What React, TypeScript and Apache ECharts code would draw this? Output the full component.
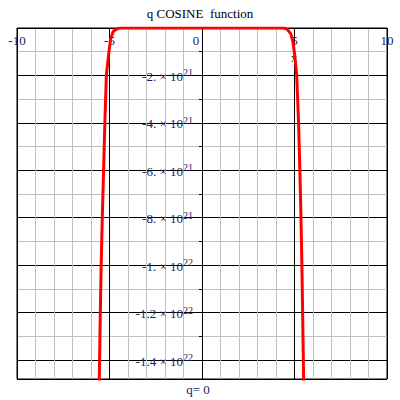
import React, { useEffect, useRef } from "react";
import * as echarts from "echarts";

const chartTitle = "q COSINE  function";
const xAxisName = "x";
const parameterNote = "q= 0";

// x range and grid steps
const xMin = -10;
const xMax = 10;
const xMajor = 5;
// y range (values are negative; the plot runs from 0 down to yBottom)
const yBottom = -1.48e22;
const yMajor = 2e21;

// curve
const curveX = [
  -5.56, -5.5, -5.45, -5.39, -5.32, -5.25, -5.17, -5.06, -4.94, -4.8, -4.6, -4.4,
  0,
  4.4, 4.6, 4.8, 4.92, 5.02, 5.12, 5.22, 5.29, 5.35, 5.4, 5.44, 5.5,
];
const curveY = [
  -1.52e22, -1.22e22, -1.0e22, -8.0e21, -6.0e21, -4.0e21, -2.0e21, -1.2e21, -4.6e20, -1.5e20, -3e19, 0,
  0,
  0, -5e19, -2.5e20, -6e20, -1.2e21, -2.0e21, -4.0e21, -6.0e21, -8.0e21, -1.0e22, -1.2e22, -1.52e22,
];

const serif = "'Liberation Serif', 'DejaVu Serif', serif";
const labelColor = "#1a1a66";

const gridLeft = 17;
const gridRight = 13;
const plotWidth = 400 - gridLeft - gridRight;

function yLabel(v: number): string {
  if (v <= 0) return "";
  const exp = Math.floor(Math.log10(v) + 1e-9);
  const mant = Math.round((v / Math.pow(10, exp)) * 10) / 10;
  const m = Number.isInteger(mant) ? `${mant}.` : mant.toFixed(1);
  return `{m|-${m} × 10}{s|${exp}}`;
}

export default function App() {
  const ref = useRef<HTMLDivElement>(null);
  useEffect(() => {
    if (!ref.current) return;
    const chart = echarts.init(ref.current, null, { renderer: "svg" });
    const data = curveX.map((x, i) => [x, -curveY[i]]);
    // y axis sits on x = 0
    const yAxisOffset = -((0 - xMin) / (xMax - xMin)) * plotWidth;
    chart.setOption({
      animation: false,
      backgroundColor: "#ffffff",
      grid: {
        left: gridLeft,
        right: gridRight,
        top: 28,
        bottom: 21,
        show: true,
        borderColor: "#000000",
        borderWidth: 1,
        backgroundColor: "transparent",
        containLabel: false,
        outerBoundsMode: "none",
      },
      xAxis: {
        type: "value",
        position: "top",
        min: xMin,
        max: xMax,
        interval: xMajor,
        axisLine: { show: true, onZero: false, lineStyle: { color: "#000", width: 1 } },
        axisTick: { show: false },
        minorTick: { show: false, splitNumber: 5 },
        splitLine: { show: true, lineStyle: { color: "#000", width: 1 } },
        minorSplitLine: { show: true, lineStyle: { color: "#c0c0c0", width: 1 } },
        axisLabel: {
          inside: true,
          margin: 6,
          fontFamily: serif,
          fontSize: 13,
          color: labelColor,
          formatter: (v: number) => (v === 0 ? "{z|0}" : `${v}`),
          rich: {
            z: { fontFamily: serif, fontSize: 13, color: labelColor, padding: [0, 12, 0, 0] },
          },
        },
      },
      yAxis: {
        type: "value",
        position: "left",
        offset: yAxisOffset,
        inverse: true,
        min: 0,
        max: -yBottom,
        interval: yMajor,
        axisLine: { show: true, onZero: false, lineStyle: { color: "#000", width: 1 } },
        axisTick: { show: false },
        minorTick: { show: true, splitNumber: 2, length: 3, lineStyle: { color: "#000", width: 1 } },
        splitLine: { show: true, lineStyle: { color: "#000", width: 1 } },
        minorSplitLine: { show: true, lineStyle: { color: "#c0c0c0", width: 1 } },
        axisLabel: {
          showMinLabel: false,
          showMaxLabel: false,
          margin: 9,
          formatter: yLabel,
          rich: {
            m: { fontFamily: serif, fontSize: 13, color: labelColor, lineHeight: 15, verticalAlign: "bottom" },
            s: { fontFamily: serif, fontSize: 10, color: labelColor, lineHeight: 10, verticalAlign: "top" },
          },
        },
      },
      series: [
        {
          type: "line",
          data,
          showSymbol: false,
          symbol: "none",
          smooth: false,
          clip: true,
          lineStyle: { color: "#ff0000", width: 3 },
          z: 5,
        },
      ],
      graphic: [
        {
          type: "text",
          x: 200,
          y: 13,
          style: {
            text: chartTitle,
            font: `13px ${serif}`,
            fill: "#000",
            align: "center",
            verticalAlign: "middle",
          },
        },
        {
          type: "text",
          x: 294,
          y: 57,
          style: {
            text: xAxisName,
            font: `13px ${serif}`,
            fill: "#333",
            align: "center",
            verticalAlign: "middle",
          },
        },
        {
          type: "text",
          x: 198,
          y: 389,
          style: {
            text: parameterNote,
            font: `13px ${serif}`,
            fill: labelColor,
            align: "center",
            verticalAlign: "middle",
          },
        },
      ],
    });
    return () => chart.dispose();
  }, []);
  return <div ref={ref} style={{ width: 400, height: 400, position: "absolute", left: 0, top: 0 }} />;
}
